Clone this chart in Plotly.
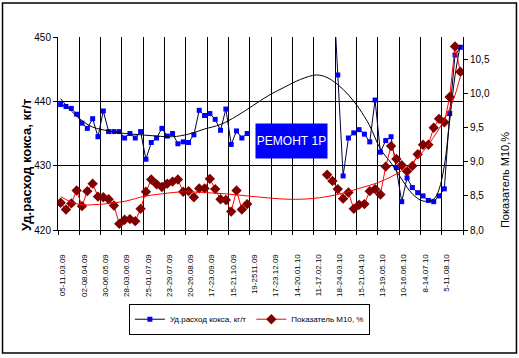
import plotly.graph_objects as go

# ---------------- data ----------------
week_labels = ["05-11.03.09", "02-08.04.09", "30-06.05.09", "28-03.06.09", "25-01.07.09",
               "23-29.07.09", "20-26.08.09", "17-23.09.09", "15-21.10.09", "19-2511.09",
               "17-23.12.09", "14-20.01.10", "11-17.02.10", "18-24.03.10", "15-21.04.10",
               "13-19.05.10", "10-16.06.10", "8-14.07.10", "5-11.08.10"]
n_weeks = 76
weeks = list(range(n_weeks))

coke_rate = ([439.5, 439.2, 438.9, 438.0, 436.6, 435.8, 437.3, 434.5, 438.5, 435.3,
              435.3, 435.3, 434.3, 435.0, 434.3, 435.3, 431.0, 433.6, 434.3, 435.8,
              434.6, 435.0, 433.4, 433.7, 433.6, 434.8, 438.6, 437.8, 438.1, 437.2,
              435.5, 438.8, 433.3, 435.4, 434.3, 435.0]
             + [None] * 15
             + [460.0, 444.1, 428.4, 434.3, 435.1, 435.6, 434.9, 433.7, 440.2, 432.1,
                433.9, 434.5, 429.7, 424.4, 428.1, 426.6, 425.8, 425.3, 424.6, 424.4,
                425.3, 426.4, 438.1, 447.2, 448.4])

m10 = ([8.40, 8.30, 8.39, 8.58, 8.35, 8.57, 8.68, 8.49, 8.48, 8.45,
        8.36, 8.09, 8.15, 8.16, 8.13, 8.31, 8.56, 8.74, 8.67, 8.63,
        8.68, 8.71, 8.74, 8.56, 8.57, 8.48, 8.61, 8.61, 8.75, 8.60,
        8.45, 8.44, 8.27, 8.58, 8.30, 8.38]
       + [None] * 14
       + [8.81, 8.72, 8.60, 8.46, 8.55, 8.31, 8.37, 8.38, 8.57, 8.60,
          8.52, 8.93, 9.23, 9.04, 8.95, 8.86, 8.94, 9.11, 9.25, 9.25,
          9.50, 9.63, 9.58, 9.95, 10.69, 10.32])

# trend lines
coke_trend_week = [0, 2, 4, 6, 9, 12, 15, 18, 21, 24, 27, 30, 33, 36, 39, 42, 45, 48,
                   50, 52, 54, 56, 58, 60, 62, 64, 66, 68, 70, 71, 72, 73, 74, 75]
coke_trend = [440.4, 438.5, 437.0, 436.0, 435.4, 435.0, 434.8, 434.6, 434.5, 434.9,
              435.7, 436.4, 437.7, 439.3, 440.9, 442.2, 443.4, 444.1,
              443.7, 442.6, 441.0, 438.9, 436.2, 432.6, 430.4, 427.9, 425.6, 424.5,
              424.8, 426.3, 430.0, 437.0, 444.0, 448.8]

m10_trend_week = [0, 2, 4, 6, 8, 10, 12, 14, 16, 18, 20, 23, 27, 31, 35, 39, 43, 47,
                  50, 53, 56, 59, 62, 64, 66, 68, 70, 72, 73, 74, 75]
m10_trend = [8.49, 8.41, 8.37, 8.37, 8.38, 8.40, 8.42, 8.46, 8.50, 8.52, 8.54, 8.56,
             8.55, 8.53, 8.50, 8.47, 8.45, 8.46, 8.49, 8.54, 8.61, 8.68, 8.78, 8.87,
             8.99, 9.15, 9.36, 9.62, 9.78, 9.98, 10.25]

left_ticks = [420, 430, 440, 450]
right_ticks = [8.0, 8.5, 9.0, 9.5, 10.0, 10.5]

# ---------------- style ----------------
FONT = "Liberation Sans, Arial, sans-serif"

fig = go.Figure()

fig.add_trace(go.Scatter(
    x=weeks, y=coke_rate, name="Уд.расход кокса, кг/т", mode="lines+markers",
    line=dict(color="#000040", width=1),
    marker=dict(symbol="square", size=5, color="#0000FF", line=dict(width=0)),
    connectgaps=False, yaxis="y"))

fig.add_trace(go.Scatter(
    x=weeks, y=m10, name="Показатель М10, %", mode="lines+markers",
    line=dict(color="#FF0000", width=1),
    marker=dict(symbol="diamond", size=8, color="#800000", line=dict(width=0)),
    connectgaps=False, yaxis="y2"))

fig.add_trace(go.Scatter(
    x=coke_trend_week, y=coke_trend, mode="lines", showlegend=False,
    line=dict(color="black", width=1, shape="spline", smoothing=1), yaxis="y",
    hoverinfo="skip"))

fig.add_trace(go.Scatter(
    x=m10_trend_week, y=m10_trend, mode="lines", showlegend=False,
    line=dict(color="#FF0000", width=1, shape="spline", smoothing=1), yaxis="y2",
    hoverinfo="skip"))

boundaries = [w - 0.5 for w in range(0, n_weeks + 1, 4)]

fig.update_layout(
    width=519, height=358,
    margin=dict(l=58, r=56, t=37, b=128, autoexpand=False),
    paper_bgcolor="white", plot_bgcolor="white",
    font=dict(family=FONT, size=10, color="black"),
    separators=", ",
    showlegend=True,
    xaxis=dict(
        range=[-0.5, n_weeks - 0.5], tickmode="array",
        tickvals=weeks[::4], ticktext=week_labels,
        tickangle=-90, ticks="", showgrid=False, zeroline=False,
        showline=True, linecolor="black", linewidth=1,
        tickfont=dict(family=FONT, size=8),
        ticklabelstandoff=20, ticklabelshift=2,
        minor=dict(tickvals=boundaries, ticks="outside", ticklen=4,
                   tickcolor="black", showgrid=True, gridcolor="black", gridwidth=1),
    ),
    yaxis=dict(
        range=[420, 450], tickmode="array", tickvals=left_ticks,
        ticks="outside", ticklen=4, tickcolor="black",
        showgrid=True, gridcolor="black", gridwidth=1, zeroline=False,
        showline=True, linecolor="black", linewidth=1,
        tickfont=dict(family=FONT, size=10),
    ),
    yaxis2=dict(
        range=[8.0, 10.83], overlaying="y", side="right", tickmode="array",
        tickvals=right_ticks, tickformat=".1f",
        ticks="outside", ticklen=4, tickcolor="black",
        showgrid=False, zeroline=False,
        showline=True, linecolor="black", linewidth=1,
        tickfont=dict(family=FONT, size=10),
    ),
    legend=dict(
        orientation="h", x=0.175, y=-0.382, xanchor="left", yanchor="top",
        bordercolor="black", borderwidth=1, bgcolor="white",
        font=dict(family=FONT, size=8), itemwidth=30,
    ),
    annotations=[
        dict(text="<b>Уд.расход кокса, кг/т</b>", textangle=-90, xref="paper", yref="paper",
             x=-0.0765, y=-0.015, xanchor="center", yanchor="bottom", showarrow=False,
             font=dict(family=FONT, size=13, color="black")),
        dict(text="Показатель М10,%", textangle=-90, xref="paper", yref="paper",
             x=1.104, y=0.0, xanchor="center", yanchor="bottom", showarrow=False,
             font=dict(family=FONT, size=11, color="black")),
        dict(text="РЕМОНТ 1Р", xref="paper", yref="paper", x=0.5765, y=0.461,
             xanchor="center", yanchor="middle", showarrow=False,
             bgcolor="#0000FF", width=71, height=34, borderpad=0,
             font=dict(family=FONT, size=12, color="white")),
    ],
    shapes=[
        dict(type="rect", xref="paper", yref="paper", x0=-0.137, x1=1.132,
             y0=-0.637, y1=1.176, line=dict(color="black", width=1.5),
             fillcolor="rgba(0,0,0,0)", layer="below"),
    ],
)

fig.write_html("out.html", config={"displayModeBar": False},
               post_script="document.body.style.margin='0';document.body.style.padding='0';")
